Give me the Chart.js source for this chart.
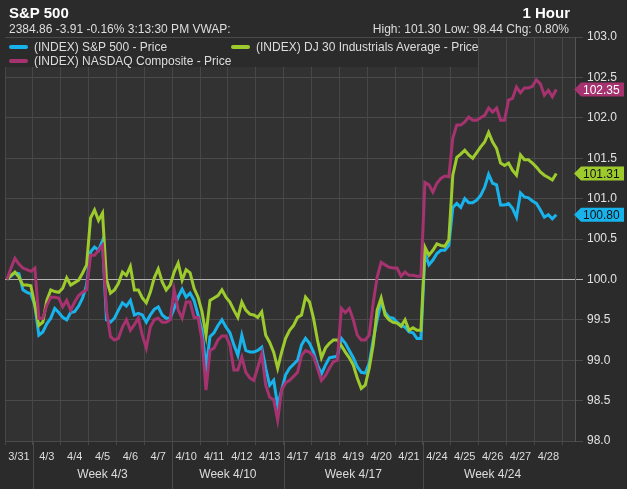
<!DOCTYPE html>
<html><head><meta charset="utf-8">
<script src="https://cdn.jsdelivr.net/npm/chart.js@4"></script>
<style>
html,body{margin:0;padding:0;background:#2b2b2b;}
#wrap{position:relative;width:627px;height:489px;overflow:hidden;font-family:"Liberation Sans",Arial,sans-serif;color:#ddd;}
#c{position:absolute;left:0;top:0;}
.t{position:absolute;white-space:nowrap;}
#legend{position:absolute;left:5px;top:38px;width:473px;height:29px;background:#2b2b2b;font-size:12px;color:#ddd;}
.li{position:absolute;white-space:nowrap;line-height:14px;}
.sw{display:inline-block;width:19px;height:4px;border-radius:2px;vertical-align:middle;margin-right:6px;position:relative;top:-1px;}
</style></head><body>
<div id="wrap">
<canvas id="c" width="627" height="489"></canvas>
<div class="t" style="left:9px;top:4px;font-size:15px;font-weight:bold;color:#fff;">S&amp;P 500</div>
<div class="t" style="left:9px;top:22px;font-size:12px;color:#ddd;">2384.86 -3.91 -0.16% 3:13:30 PM VWAP:</div>
<div class="t" style="right:57px;top:4px;font-size:15px;font-weight:bold;color:#fff;">1 Hour</div>
<div class="t" style="right:58px;top:22px;font-size:12px;color:#ddd;">High: 101.30 Low: 98.44 Chg: 0.80%</div>
<div id="legend"></div>
</div>
<script>
const dayLabels = ['3/31','4/3','4/4','4/5','4/6','4/7','4/10','4/11','4/12','4/13','4/17','4/18','4/19','4/20','4/21','4/24','4/25','4/26','4/27','4/28'];
const weekLabels = ['Week 4/3','Week 4/10','Week 4/17','Week 4/24'];
const weekFirstDay = [1,6,10,15];
const weekLastDay = [5,9,14,19];
const barsPerDay = 7;
const seriesNames = ['(INDEX) S&P 500 - Price','(INDEX) DJ 30 Industrials Average - Price','(INDEX) NASDAQ Composite - Price'];

const spx = [
100.00,100.04,100.08,100.07,99.87,99.84,99.82,
99.68,99.31,99.35,99.45,99.52,99.64,99.59,
99.53,99.50,99.59,99.60,99.67,99.77,99.93,
100.34,100.40,100.36,100.48,99.50,99.47,99.52,
99.62,99.71,99.67,99.74,99.56,99.58,99.56,
99.47,99.56,99.63,99.66,99.56,99.52,99.52,
99.64,99.78,99.88,99.78,99.83,99.74,99.56,
99.37,98.90,99.29,99.34,99.43,99.50,99.41,
99.34,99.19,99.06,99.31,99.12,99.10,99.10,
99.12,99.16,98.90,98.69,98.75,98.44,98.63,
98.82,98.90,98.95,99.00,99.19,99.27,99.21,
99.10,98.94,98.83,98.94,99.03,99.04,99.05,
99.27,99.21,99.12,99.03,98.92,98.85,98.84,
98.96,99.25,99.50,99.72,99.59,99.53,99.52,
99.47,99.43,99.41,99.35,99.34,99.27,99.27,
100.32,100.18,100.24,100.32,100.36,100.36,100.42,
100.89,100.94,100.89,101.00,100.95,100.95,100.98,
101.04,101.14,101.30,101.19,101.17,100.92,100.92,
100.94,100.88,100.77,101.07,101.02,101.01,100.97,
100.94,100.86,100.77,100.80,100.75,100.80
];
const djia = [
100.00,100.05,100.09,100.03,99.93,99.93,99.92,
99.68,99.43,99.47,99.74,99.87,99.85,99.84,
99.89,100.02,99.93,99.96,99.99,100.08,100.18,
100.76,100.86,100.73,100.82,100.00,99.83,99.87,
99.95,100.09,100.05,100.16,99.87,99.87,99.77,
99.71,99.84,100.02,100.13,99.97,99.87,99.93,
100.09,100.20,99.99,100.12,100.08,99.89,99.78,
99.60,99.31,99.74,99.77,99.80,99.87,99.78,
99.72,99.62,99.53,99.72,99.62,99.57,99.56,
99.53,99.60,99.31,99.22,99.10,98.90,99.10,
99.27,99.37,99.43,99.53,99.56,99.78,99.72,
99.52,99.25,99.03,99.15,99.21,99.25,99.25,
99.18,99.10,99.03,98.94,98.78,98.65,98.69,
98.90,99.19,99.62,99.77,99.56,99.50,99.47,
99.46,99.42,99.50,99.37,99.40,99.37,99.37,
100.40,100.30,100.36,100.44,100.42,100.41,100.49,
101.29,101.51,101.55,101.60,101.54,101.50,101.57,
101.64,101.70,101.82,101.70,101.62,101.44,101.41,
101.44,101.35,101.29,101.54,101.48,101.48,101.44,
101.39,101.33,101.29,101.26,101.23,101.31
];
const ndx = [
100.00,100.14,100.26,100.19,100.14,100.12,100.10,
100.14,99.52,99.52,99.68,99.78,99.78,99.77,
99.66,99.74,99.62,99.72,99.80,99.84,99.87,
100.30,100.30,100.36,100.42,99.62,99.29,99.25,
99.27,99.41,99.50,99.37,99.44,99.52,99.31,
99.15,99.41,99.50,99.52,99.47,99.47,99.50,
99.87,99.62,99.52,99.72,99.72,99.53,99.53,
99.25,98.63,99.12,99.15,99.25,99.30,99.30,
99.19,98.88,98.88,99.04,98.85,98.78,98.75,
98.91,99.08,98.69,98.54,98.51,98.26,98.63,
98.72,98.75,98.80,98.85,99.06,99.12,99.10,
99.05,98.90,98.75,98.81,98.90,98.98,99.00,
99.64,99.59,99.64,99.50,99.31,99.25,99.25,
99.31,99.71,100.03,100.21,100.18,100.15,100.14,
100.14,100.04,100.09,100.05,100.05,100.04,100.04,
101.20,101.17,101.08,101.19,101.25,101.28,101.27,
101.75,101.91,101.91,101.95,102.01,101.97,101.97,
102.00,102.03,102.12,102.07,102.12,101.97,101.97,
102.22,102.24,102.38,102.31,102.37,102.37,102.39,
102.47,102.42,102.28,102.34,102.26,102.35
];
const yTickValues = [98.0,98.5,99.0,99.5,100.0,100.5,101.0,101.5,102.0,102.5,103.0];

const colors = ['#19b3ec','#9dcb2d','#a6336f'];
const tagText = ['#111111','#111111','#ffffff'];
const FONT = '"Liberation Sans", Arial, sans-serif';

// legend (HTML)
const lg = document.getElementById('legend');
const legendPos = [[4,2],[226,2],[4,16]];
[0,1,2].forEach(i=>{
  const d = document.createElement('div');
  d.className='li'; d.style.left=legendPos[i][0]+'px'; d.style.top=legendPos[i][1]+'px';
  d.innerHTML = '<span class="sw" style="background:'+colors[i]+'"></span>';
  d.appendChild(document.createTextNode(seriesNames[i]));
  lg.appendChild(d);
});

const toXY = arr => arr.map((v,i)=>({x:i,y:v}));

const bgPlugin = {
  id:'bg',
  beforeDraw(chart){
    const {ctx, chartArea:a} = chart;
    ctx.save(); ctx.fillStyle='#323232';
    ctx.fillRect(a.left,a.top,a.right-a.left,a.bottom-a.top);
    ctx.restore();
  }
};
const weekSepPlugin = {
  id:'weeksep',
  afterDraw(chart){
    const {ctx, chartArea:a} = chart; const xs = chart.scales.x;
    ctx.save(); ctx.strokeStyle='#4a4a4a'; ctx.lineWidth=1;
    weekFirstDay.forEach(d=>{
      const px = Math.round(xs.getPixelForValue(d*barsPerDay-0.5))+0.5;
      ctx.beginPath(); ctx.moveTo(px,a.bottom); ctx.lineTo(px,chart.height); ctx.stroke();
    });
    ctx.restore();
  }
};
const tagPlugin = {
  id:'tags',
  afterDraw(chart){
    const {ctx, chartArea:a} = chart; const ys = chart.scales.y;
    const lists=[spx,djia,ndx];
    ctx.save();
    lists.forEach((arr,i)=>{
      const v = arr[arr.length-1];
      const y = ys.getPixelForValue(v);
      const x0 = a.right-1;
      ctx.fillStyle = colors[i];
      ctx.beginPath();
      ctx.moveTo(x0,y); ctx.lineTo(x0+7,y-7); ctx.lineTo(624,y-7); ctx.lineTo(624,y+7); ctx.lineTo(x0+7,y+7); ctx.closePath();
      ctx.fill();
      ctx.fillStyle = tagText[i];
      ctx.font = '12px '+FONT; ctx.textAlign='left'; ctx.textBaseline='middle';
      ctx.fillText(v.toFixed(2), x0+9, y+1);
    });
    ctx.restore();
  }
};

new Chart(document.getElementById('c'), {
  type:'line',
  data:{
    datasets:[
      {label:seriesNames[0], data:toXY(spx), borderColor:colors[0], borderWidth:3, pointRadius:0, tension:0, order:2},
      {label:seriesNames[1], data:toXY(djia), borderColor:colors[1], borderWidth:3, pointRadius:0, tension:0, order:1},
      {label:seriesNames[2], data:toXY(ndx), borderColor:colors[2], borderWidth:3, pointRadius:0, tension:0, order:0}
    ]
  },
  options:{
    responsive:false, animation:false, devicePixelRatio:1,
    layout:{padding:{top:37,left:5,right:0,bottom:0}},
    plugins:{legend:{display:false}, title:{display:false}, tooltip:{enabled:false}},
    scales:{
      x:{
        type:'linear', position:'bottom', min:-0.5, max:142.7, bounds:'data',
        afterBuildTicks(s){ s.ticks = dayLabels.map((_,k)=>({value:k*barsPerDay+3})); },
        ticks:{autoSkip:false, maxRotation:0, padding:5, color:'#dddddd', font:{size:11, family:FONT},
          callback:(v,idx)=>dayLabels[idx]},
        grid:{offset:true, color:'#474747', tickLength:4, drawOnChartArea:true},
        border:{display:false},
        afterFit(s){ s.height = 24; }
      },
      xw:{
        type:'linear', position:'bottom', min:-0.5, max:142.7, bounds:'data',
        afterBuildTicks(s){ s.ticks = weekLabels.map((_,k)=>({value:(weekFirstDay[k]*barsPerDay + weekLastDay[k]*barsPerDay + barsPerDay-1)/2})); },
        ticks:{autoSkip:false, maxRotation:0, padding:2, color:'#dddddd', font:{size:12, family:FONT},
          callback:(v,idx)=>weekLabels[idx]},
        grid:{display:false, drawTicks:false},
        border:{display:false},
        afterFit(s){ s.height = 24; }
      },
      y:{
        position:'right', min:98, max:103,
        afterBuildTicks(s){ s.ticks = yTickValues.map(v=>({value:v})); },
        ticks:{padding:4, color:'#e2e2e2', font:{size:12, family:FONT}, callback:v=>Number(v).toFixed(1)},
        grid:{tickLength:8, color:c=> (c.tick && Math.abs(c.tick.value-100)<1e-6) ? '#b4b4b4' : '#4a4a4a'},
        border:{display:true, color:'#555555'},
        afterFit(s){ s.width = 52; }
      }
    }
  },
  plugins:[bgPlugin, weekSepPlugin, tagPlugin]
});
</script>
</body></html>
